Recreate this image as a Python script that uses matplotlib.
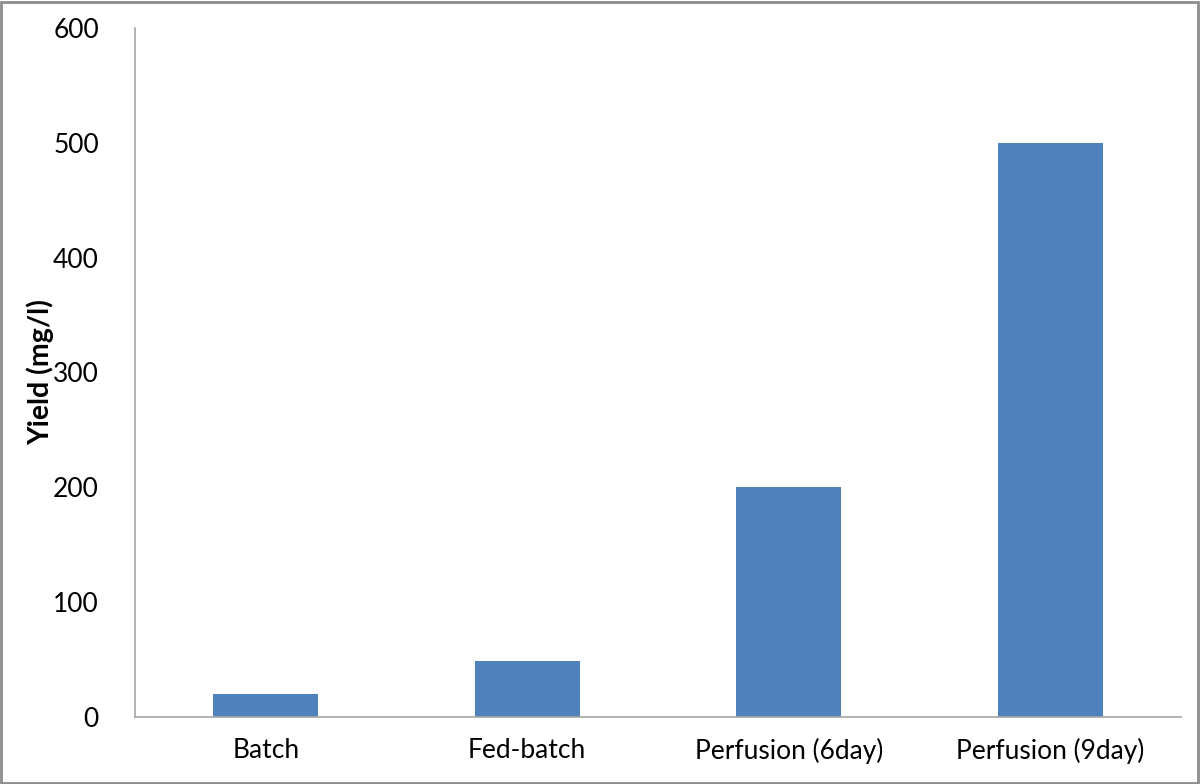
import matplotlib
matplotlib.use("Agg")
import matplotlib.pyplot as plt
from matplotlib.patches import Rectangle

categories = ["Batch", "Fed-batch", "Perfusion (6day)", "Perfusion (9day)"]
values = [20, 49, 200, 500]
yticks = [0, 100, 200, 300, 400, 500, 600]

plt.rcParams['font.family'] = ['Lato', 'DejaVu Sans']

fig = plt.figure(figsize=(12, 7.84), dpi=100)
ax = fig.add_axes([135/1200, 1 - 717/784, (1181-135)/1200, (717-28)/784])

x = range(len(categories))
ax.bar(x, values, width=0.4, color="#4F81BD")
ax.set_xlim(-0.5, len(categories) - 0.5)
ax.set_ylim(0, 600)
ax.set_yticks(yticks)
ax.set_xticks(list(x))
ax.set_xticklabels(categories)
ax.tick_params(axis='both', length=0, labelsize=19, colors='black')
ax.tick_params(axis='y', pad=26)
ax.tick_params(axis='x', pad=15)
for s in ['top', 'right']:
    ax.spines[s].set_visible(False)
for s in ['left', 'bottom']:
    ax.spines[s].set_color('#a6a6a6')
    ax.spines[s].set_linewidth(1.2)

fig.text(40/1200, 1 - 372/784, "Yield (mg/l)", fontsize=20.5, fontweight='bold',
         rotation=90, ha='center', va='center')

fig.patches.append(Rectangle((0.001, 0.001), 0.997, 0.996, transform=fig.transFigure,
                             fill=False, edgecolor='#8c8c8c', linewidth=2))

fig.savefig("out.png", dpi=100)
